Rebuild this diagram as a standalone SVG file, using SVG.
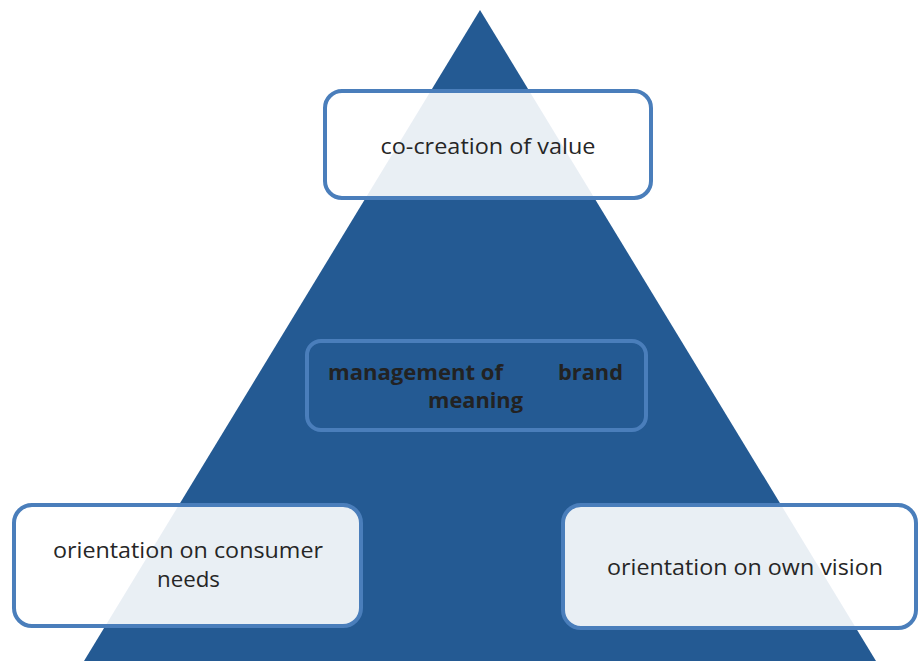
<svg xmlns="http://www.w3.org/2000/svg" width="918" height="661" viewBox="0 0 918 661">
<style>
.box{stroke:#4a7ebb;stroke-width:4}
.w{fill:#ffffff;fill-opacity:0.9}
.t{font-family:"Open Sans","Liberation Sans",sans-serif;font-size:21px;fill:#262626;text-anchor:middle}
.b{font-family:"Open Sans","Liberation Sans",sans-serif;font-size:21px;font-weight:bold;fill:#222222}
</style>
<rect x="0" y="0" width="918" height="661" fill="#ffffff"/>
<g id="pyramid">
<polygon points="480,10 84,661 876,661" fill="#245a93"/>
</g>
<g id="connectors"></g>
<g id="node-top">
<rect class="box w" x="325" y="91" width="326" height="107" rx="17"/>
<text class="t" x="488" y="154" textLength="215" lengthAdjust="spacingAndGlyphs">co-creation of value</text>
</g>
<g id="node-middle">
<rect class="box" x="307" y="341" width="339" height="89" rx="14" fill="#245a93"/>
<text class="b" x="328" y="380" textLength="175" lengthAdjust="spacingAndGlyphs">management of</text>
<text class="b" x="558" y="380" textLength="65" lengthAdjust="spacingAndGlyphs">brand</text>
<text class="b" x="428" y="408" textLength="95" lengthAdjust="spacingAndGlyphs">meaning</text>
</g>
<g id="node-left">
<rect class="box w" x="14" y="505" width="347" height="121" rx="18"/>
<text class="t" x="188" y="558" textLength="270" lengthAdjust="spacingAndGlyphs">orientation on consumer</text>
<text class="t" x="188.5" y="587" textLength="63" lengthAdjust="spacingAndGlyphs">needs</text>
</g>
<g id="node-right">
<rect class="box w" x="563" y="505" width="353" height="123" rx="18"/>
<text class="t" x="745" y="575" textLength="276" lengthAdjust="spacingAndGlyphs">orientation on own vision</text>
</g>
</svg>
